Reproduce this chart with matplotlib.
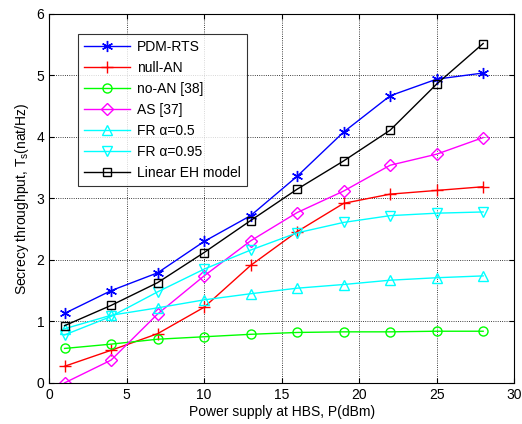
import numpy as np
import matplotlib
matplotlib.use("Agg")
import matplotlib.pyplot as plt

plt.rcParams['font.family'] = ['Liberation Sans', 'DejaVu Sans']

# transmit power at the HBS (dBm)
P = [1, 4, 7, 10, 13, 16, 19, 22, 25, 28]

# secrecy throughput for each scheme (nat/Hz)
pdm_rts = [1.13, 1.50, 1.79, 2.30, 2.72, 3.36, 4.08, 4.67, 4.94, 5.04]
null_an = [0.27, 0.53, 0.80, 1.23, 1.91, 2.46, 2.92, 3.07, 3.13, 3.19]
no_an = [0.56, 0.63, 0.71, 0.75, 0.79, 0.82, 0.83, 0.83, 0.84, 0.84]
as_37 = [0.0, 0.37, 1.12, 1.74, 2.31, 2.77, 3.12, 3.54, 3.72, 3.99]
fr_05 = [0.88, 1.10, 1.22, 1.35, 1.45, 1.54, 1.60, 1.67, 1.71, 1.74]
fr_095 = [0.78, 1.08, 1.48, 1.85, 2.16, 2.44, 2.61, 2.72, 2.76, 2.78]
linear_eh = [0.93, 1.26, 1.63, 2.12, 2.64, 3.15, 3.61, 4.11, 4.86, 5.52]

labels = ["PDM-RTS", "null-AN", "no-AN [38]", "AS [37]",
          "FR \u03b1=0.5", "FR \u03b1=0.95", "Linear EH model"]

fig = plt.figure(figsize=(5.22, 4.24), dpi=100)
ax = fig.add_axes([0.094, 0.097, 0.891, 0.870])

series = [pdm_rts, null_an, no_an, as_37, fr_05, fr_095, linear_eh]
colors = ['#0000ff', '#ff0000', '#00ff00', '#ff00ff', '#00ffff', '#00ffff', '#000000']
# asterisk like matlab's '*'
markers = [(6, 2, 0), '+', 'o', 'D', '^', 'v', 's']
sizes = [8, 9, 6.5, 6, 7, 7, 6]

for y, c, m, s, lab in zip(series, colors, markers, sizes, labels):
    ax.plot(P, y, color=c, marker=m, markersize=s, markerfacecolor='none',
            markeredgecolor=c, markeredgewidth=1.0, linewidth=1.0, label=lab)

ax.set_xlim(0, 30)
ax.set_ylim(0, 6)
ax.set_xticks(np.arange(0, 31, 5))
ax.set_yticks(np.arange(0, 7, 1))
ax.grid(True, linestyle=':', color='black', linewidth=0.6)
ax.tick_params(direction='in', top=True, right=True, labelsize=10)
for sp in ax.spines.values():
    sp.set_linewidth(0.8)

ax.set_xlabel("Power supply at HBS, P(dBm)", fontsize=10, labelpad=2)
ax.set_ylabel("Secrecy throughput, T$_\\mathregular{s}$(nat/Hz)", fontsize=10, labelpad=4)

leg = ax.legend(loc='upper left', bbox_to_anchor=(0.062, 0.946), fontsize=10,
                frameon=True, fancybox=False, edgecolor='black',
                borderaxespad=0, handlelength=3.3, borderpad=0.45,
                labelspacing=0.5, handletextpad=0.5)
leg.get_frame().set_linewidth(0.8)

fig.savefig("out.png", dpi=100)
